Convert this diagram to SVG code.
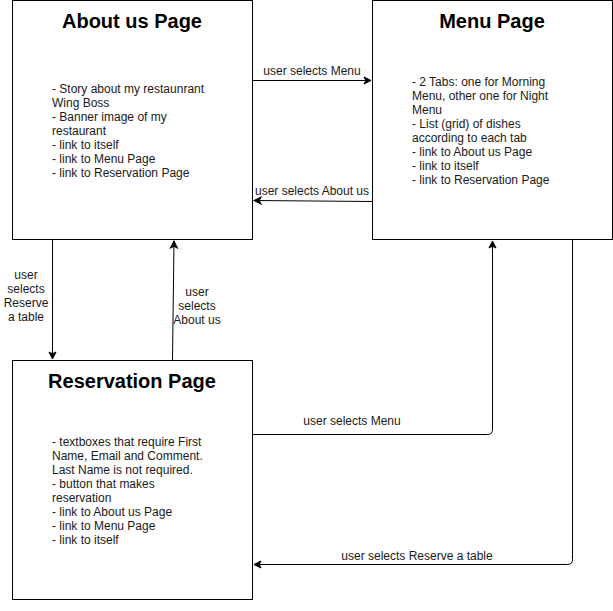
<svg xmlns="http://www.w3.org/2000/svg" width="613" height="611" viewBox="0 0 613 611">
<style>
.box{fill:#fff;stroke:#000;stroke-width:1}
.title{font-family:"Liberation Sans",Arial,sans-serif;font-size:20px;font-weight:bold;text-anchor:middle;fill:#000}
.body{font-family:"Liberation Sans",Arial,sans-serif;font-size:12px;fill:#1a1a1a}
.lbl{font-family:"Liberation Sans",Arial,sans-serif;font-size:12px;fill:#1a1a1a;text-anchor:middle}
.edge{fill:none;stroke:#000;stroke-width:1}
</style>
<defs>
<marker id="arr" markerWidth="10" markerHeight="10" refX="8" refY="5" orient="auto" markerUnits="userSpaceOnUse">
<path d="M1,1.5 L8,5 L1,8.5 L2.8,5 Z" fill="#000" stroke="#000" stroke-width="1"/>
</marker>
</defs>
<rect width="613" height="611" fill="#fff"/>
<g id="about">
<rect class="box" x="12.5" y="0.5" width="240" height="239"/>
<text class="title" x="132" y="28">About us Page</text>
<text class="body" x="52" y="93">- Story about my restaunrant</text>
<text class="body" x="52" y="107">Wing Boss</text>
<text class="body" x="52" y="121">- Banner image of my</text>
<text class="body" x="52" y="135">restaurant</text>
<text class="body" x="52" y="149">- link to itself</text>
<text class="body" x="52" y="163">- link to Menu Page</text>
<text class="body" x="52" y="177">- link to Reservation Page</text>
</g>
<g id="menu">
<rect class="box" x="372.5" y="0.5" width="240" height="239"/>
<text class="title" x="492" y="28">Menu Page</text>
<text class="body" x="412" y="86">- 2 Tabs: one for Morning</text>
<text class="body" x="412" y="100">Menu, other one for Night</text>
<text class="body" x="412" y="114">Menu</text>
<text class="body" x="412" y="128">- List (grid) of dishes</text>
<text class="body" x="412" y="142">according to each tab</text>
<text class="body" x="412" y="156">- link to About us Page</text>
<text class="body" x="412" y="170">- link to itself</text>
<text class="body" x="412" y="184">- link to Reservation Page</text>
</g>
<g id="reservation">
<rect class="box" x="12.5" y="360.5" width="240" height="239"/>
<text class="title" x="132" y="388">Reservation Page</text>
<text class="body" x="52" y="446">- textboxes that require First</text>
<text class="body" x="52" y="460">Name, Email and Comment.</text>
<text class="body" x="52" y="474">Last Name is not required.</text>
<text class="body" x="52" y="488">- button that makes</text>
<text class="body" x="52" y="502">reservation</text>
<text class="body" x="52" y="516">- link to About us Page</text>
<text class="body" x="52" y="530">- link to Menu Page</text>
<text class="body" x="52" y="544">- link to itself</text>
</g>
<g id="connectors">
<path class="edge" d="M252.5,80.5 L371,80.5" marker-end="url(#arr)"/>
<text class="lbl" x="312" y="75">user selects Menu</text>
<path class="edge" d="M372.5,201.5 L254,200.5" marker-end="url(#arr)"/>
<text class="lbl" x="312" y="195">user selects About us</text>
<path class="edge" d="M52.5,240 L52.5,359" marker-end="url(#arr)"/>
<text class="lbl" x="26" y="279">user</text>
<text class="lbl" x="26" y="293">selects</text>
<text class="lbl" x="26" y="307">Reserve</text>
<text class="lbl" x="26" y="321">a table</text>
<path class="edge" d="M172.5,360 L174,241" marker-end="url(#arr)"/>
<text class="lbl" x="197" y="296">user</text>
<text class="lbl" x="197" y="310">selects</text>
<text class="lbl" x="197" y="324">About us</text>
<path class="edge" d="M252.5,434.5 L487.5,434.5 Q492.5,434.5 492.5,429.5 L492.5,241" marker-end="url(#arr)"/>
<text class="lbl" x="352" y="425">user selects Menu</text>
<path class="edge" d="M572.5,240 L572.5,559.5 Q572.5,564.5 567.5,564.5 L254,564.5" marker-end="url(#arr)"/>
<text class="lbl" x="417" y="560">user selects Reserve a table</text>
</g>
</svg>
